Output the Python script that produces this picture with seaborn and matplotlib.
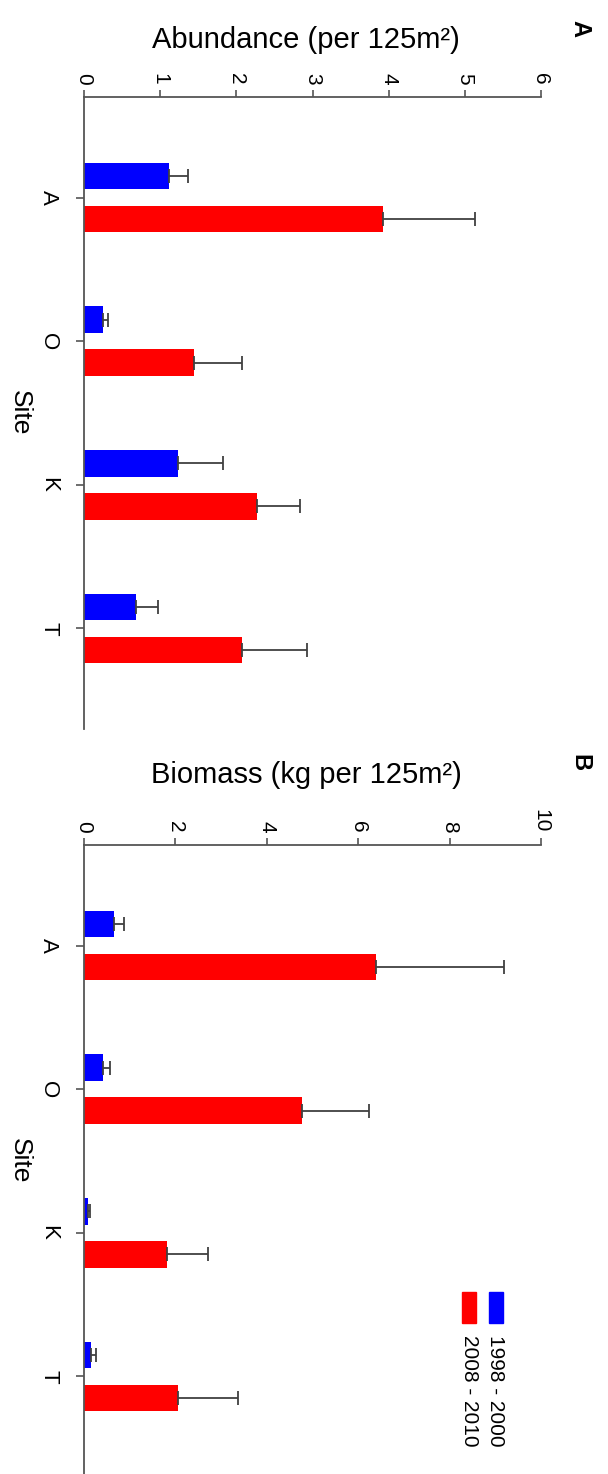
import numpy as np
import pandas as pd
import matplotlib
matplotlib.use("Agg")
import matplotlib.pyplot as plt
import seaborn as sns
from matplotlib.patches import Rectangle

# ---------------- data ----------------
sites = ["A", "O", "K", "T"]
periods = ["1998 - 2000", "2008 - 2010"]
colors = ["#0000FF", "#FF0000"]

abund_early = [1.12, 0.245, 1.23, 0.68]
abund_early_err = [0.25, 0.075, 0.60, 0.29]
abund_late = [3.93, 1.45, 2.27, 2.08]
abund_late_err = [1.21, 0.63, 0.56, 0.85]

bio_early = [0.66, 0.42, 0.095, 0.15]
bio_early_err = [0.22, 0.15, 0.03, 0.11]
bio_late = [6.40, 4.78, 1.81, 2.05]
bio_late_err = [2.80, 1.46, 0.91, 1.31]

abund_ticks = [0, 1, 2, 3, 4, 5, 6]
bio_ticks = [0, 2, 4, 6, 8, 10]

# ---------------- style ----------------
sns.set_theme(style="white")
plt.rcParams["font.family"] = ["Liberation Sans", "DejaVu Sans"]
plt.rcParams["text.color"] = "black"
plt.rcParams["xtick.color"] = "black"
plt.rcParams["ytick.color"] = "black"

W, H = 608, 1474
fig = plt.figure(figsize=(W / 100, H / 100), dpi=100)


def fx(px):
    return px / W


def fy(py):
    return 1 - py / H


SPINE = "#555555"


def panel(top_px, bottom_px, early, early_err, late, late_err, ticks, title, title_y, letter):
    ax = fig.add_axes([fx(84), fy(bottom_px), fx(541) - fx(84), fy(top_px) - fy(bottom_px)])
    df = pd.DataFrame({
        "site": sites * 2,
        "period": [periods[0]] * len(sites) + [periods[1]] * len(sites),
        "value": early + late,
    })
    sns.barplot(data=df, x="value", y="site", hue="period", hue_order=periods,
                order=sites, orient="h", palette=colors, width=0.6, gap=0.38,
                errorbar=None, saturation=1, ax=ax, legend=False, linewidth=0)
    conts = list(ax.containers[:2])
    for bars, errs in zip(conts, [early_err, late_err]):
        ys = [p.get_y() + p.get_height() / 2 for p in bars]
        xs = [p.get_x() + p.get_width() for p in bars]
        ax.errorbar(xs, ys, xerr=[np.zeros(len(errs)), errs], fmt="none",
                    ecolor="#404040", elinewidth=1.3, capsize=4.7, capthick=1.3)
    ax.set_xlim(ticks[0], ticks[-1])
    ax.set_ylim(3.7, -0.7)
    ax.xaxis.tick_top()
    ax.set_xticks(ticks)
    ax.set_xticklabels([str(t) for t in ticks])
    ax.tick_params(axis="x", top=True, bottom=False, direction="out", length=5,
                   width=1.2, color=SPINE, labelcolor="black", labelsize=15, pad=4,
                   labelrotation=-90)
    ax.tick_params(axis="y", left=True, direction="out", length=6, width=1.2,
                   color=SPINE, labelcolor="black", labelsize=16, pad=12,
                   labelrotation=-90)
    for lab in ax.get_yticklabels():
        lab.set_va("center")
    for s in ["right", "bottom"]:
        ax.spines[s].set_visible(False)
    for s in ["left", "top"]:
        ax.spines[s].set_color(SPINE)
        ax.spines[s].set_linewidth(1.3)
    ax.set_xlabel("")
    ax.set_ylabel("")
    ax.set_facecolor("white")
    # axis titles
    fig.text(fx(306), fy(title_y), title, ha="center", va="center", fontsize=21)
    yc = (top_px + bottom_px) / 2
    fig.text(fx(20), fy(yc), "Site", rotation=-90, ha="center", va="center", fontsize=19)
    fig.text(fx(580), fy(title_y - 12), letter, rotation=-90, ha="center", va="center",
             fontsize=17, fontweight="bold")
    return ax


panel(97, 729, abund_early, abund_early_err, abund_late, abund_late_err,
      abund_ticks, "Abundance (per 125m²)", 40, "A")
panel(845, 1477, bio_early, bio_early_err, bio_late, bio_late_err,
      bio_ticks, "Biomass (kg per 125m²)", 775, "B")

# legend (rotated, drawn manually)
for xp, col, lab in [(489, colors[0], periods[0]), (462, colors[1], periods[1])]:
    fig.patches.append(Rectangle((fx(xp), fy(1323)), 14 / W, 31 / H,
                                 transform=fig.transFigure, color=col))
    fig.text(fx(xp + 7), fy(1335), lab, rotation=-90, ha="center", va="top", fontsize=15)

fig.savefig("out.png", dpi=100, facecolor="white")
